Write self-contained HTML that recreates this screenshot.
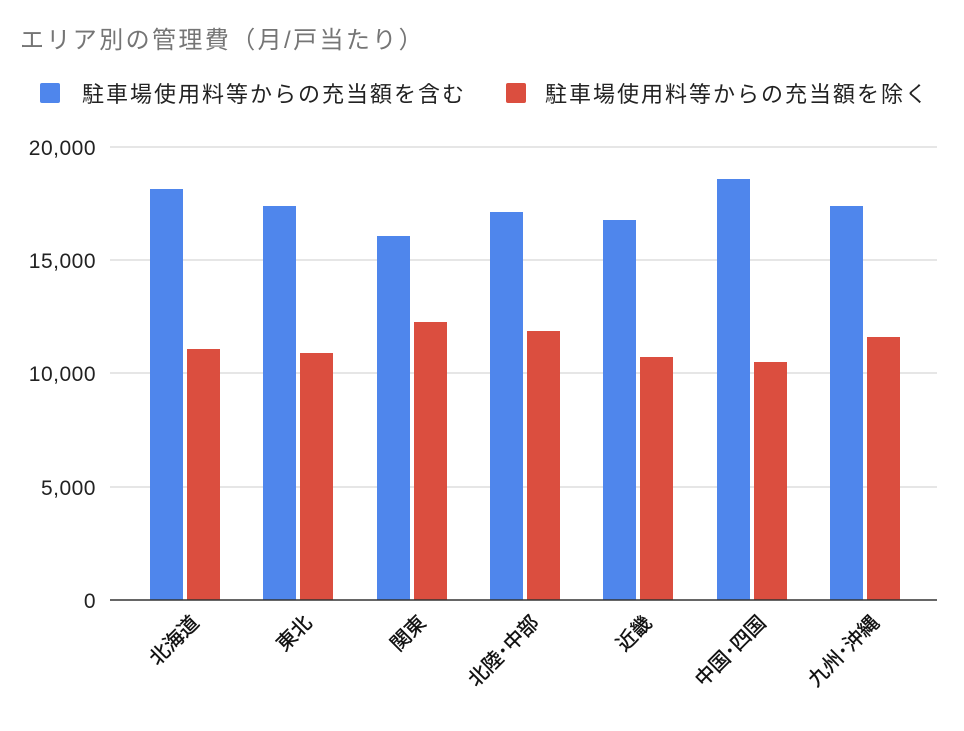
<!DOCTYPE html>
<html><head><meta charset="utf-8"><style>
body{margin:0;background:#fff;}
svg text{font-family:"Liberation Sans","Noto Sans CJK JP",sans-serif;}
</style></head><body>
<svg width="964" height="726" viewBox="0 0 964 726" xmlns="http://www.w3.org/2000/svg">
<rect width="964" height="726" fill="#fff"/>
<text x="20" y="48" font-size="24" letter-spacing="2.4" fill="#757575">エリア別の管理費（月/戸当たり）</text>
<rect x="40" y="83" width="20" height="20" rx="2" fill="#4f86ec"/>
<text x="82" y="102" font-size="22" letter-spacing="2" fill="#222">駐車場使用料等からの充当額を含む</text>
<rect x="506" y="83" width="20" height="20" rx="2" fill="#db4e3f"/>
<text x="545" y="102" font-size="22" letter-spacing="2" fill="#222">駐車場使用料等からの充当額を除く</text>
<g stroke="#ccc" stroke-width="1">
<line x1="110" y1="147" x2="937" y2="147"/>
<line x1="110" y1="260" x2="937" y2="260"/>
<line x1="110" y1="373" x2="937" y2="373"/>
<line x1="110" y1="487" x2="937" y2="487"/>
</g>
<g font-size="21" letter-spacing="0.5" fill="#222" text-anchor="end">
<text x="96" y="155">20,000</text>
<text x="96" y="268">15,000</text>
<text x="96" y="381">10,000</text>
<text x="96" y="495">5,000</text>
<text x="96" y="608">0</text>
</g>
<g fill="#4f86ec">
<rect x="150" y="189" width="33" height="411"/>
<rect x="263" y="206" width="33" height="394"/>
<rect x="377" y="236" width="33" height="364"/>
<rect x="490" y="212" width="33" height="388"/>
<rect x="603" y="220" width="33" height="380"/>
<rect x="717" y="179" width="33" height="421"/>
<rect x="830" y="206" width="33" height="394"/>
</g>
<g fill="#db4e3f">
<rect x="187" y="349" width="33" height="251"/>
<rect x="300" y="353" width="33" height="247"/>
<rect x="414" y="322" width="33" height="278"/>
<rect x="527" y="331" width="33" height="269"/>
<rect x="640" y="357" width="33" height="243"/>
<rect x="754" y="362" width="33" height="238"/>
<rect x="867" y="337" width="33" height="263"/>
</g>
<line x1="110" y1="600" x2="937" y2="600" stroke="#333" stroke-width="1.5"/>
<g font-size="20" fill="#111" stroke="#111" stroke-width="0.4" text-anchor="end">
<text transform="translate(200,624) rotate(-45)">北海道</text>
<text transform="translate(313,624) rotate(-45)">東北</text>
<text transform="translate(427,624) rotate(-45)">関東</text>
<text transform="translate(540,624) rotate(-45)">北陸･中部</text>
<text transform="translate(653,624) rotate(-45)">近畿</text>
<text transform="translate(767,624) rotate(-45)">中国･四国</text>
<text transform="translate(880,624) rotate(-45)">九州･沖縄</text>
</g>
</svg>
</body></html>
